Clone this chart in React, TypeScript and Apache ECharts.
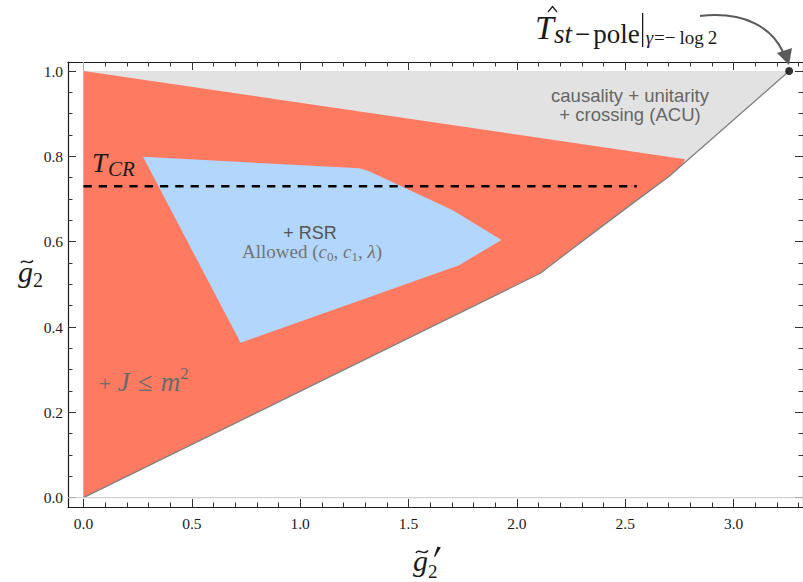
import React, { useEffect, useRef } from "react";
import * as echarts from "echarts";

// ---------- axis ranges & ticks ----------
const X_MIN = -0.0713;
const X_MAX = 3.32;
const Y_MIN = -0.0218;
const Y_MAX = 1.0211;
const X_MAJOR = [0, 0.5, 1.0, 1.5, 2.0, 2.5, 3.0];
const X_MINOR = [0.1, 0.2, 0.3, 0.4, 0.6, 0.7, 0.8, 0.9, 1.1, 1.2, 1.3, 1.4, 1.6, 1.7, 1.8, 1.9, 2.1, 2.2, 2.3, 2.4, 2.6, 2.7, 2.8, 2.9, 3.1, 3.2, 3.3];
const Y_MAJOR = [0, 0.2, 0.4, 0.6, 0.8, 1.0];
const Y_MINOR = [0.05, 0.1, 0.15, 0.25, 0.3, 0.35, 0.45, 0.5, 0.55, 0.65, 0.7, 0.75, 0.85, 0.9, 0.95];
const X_TICK_LABELS = ["0.0", "0.5", "1.0", "1.5", "2.0", "2.5", "3.0"];
const Y_TICK_LABELS = ["0.0", "0.2", "0.4", "0.6", "0.8", "1.0"];

// ---------- regions ----------
// lower-right boundary of the ACU region (from origin up to the pole point)
const ACU_BOUNDARY_X = [0, 2.108, 2.224, 2.377, 2.529, 2.7, 3.256];
const ACU_BOUNDARY_Y = [0, 0.526, 0.571, 0.63, 0.688, 0.752, 1.0];
const ACU_TOP_Y = 1.0;
// J <= m^2 region: top edge from (0,1) to corner, then boundary
const JM2_TOP_LEFT = [0, 1.0];
const JM2_CORNER = [2.776, 0.793];
const JM2_JOIN = [2.765, 0.781];
// RSR allowed region
const RSR_X = [0.275, 1.273, 1.318, 1.702, 1.929, 1.733, 0.725];
const RSR_Y = [0.799, 0.772, 0.765, 0.674, 0.604, 0.545, 0.363];
// T_CR dashed line
const TCR_Y = 0.73;
const TCR_X = [0, 2.553];
// pole point
const POLE_POINT = [3.256, 1.0];

const SERIF = '"Liberation Serif", "DejaVu Serif", serif';
const SANS = '"Liberation Sans", Arial, sans-serif';

type Frag = { t: string; size: number; italic?: boolean; family?: string; dy?: number; gap?: number; color?: string };

function fontOf(f: Frag) {
  return `${f.italic ? "italic " : ""}${f.size}px ${f.family || SERIF}`;
}

function runWidth(frags: Frag[]) {
  const ctx = document.createElement("canvas").getContext("2d")!;
  return frags.reduce((s, f) => {
    ctx.font = fontOf(f);
    return s + ctx.measureText(f.t).width + (f.gap || 0);
  }, 0);
}

function run(frags: Frag[], x: number, baseline: number, color: string, anchor: "left" | "center" = "left") {
  const ctx = document.createElement("canvas").getContext("2d")!;
  const widths = frags.map((f) => {
    ctx.font = fontOf(f);
    return ctx.measureText(f.t).width;
  });
  const total = frags.reduce((s, f, i) => s + widths[i] + (f.gap || 0), 0);
  let cx = anchor === "center" ? x - total / 2 : x;
  return frags.map((f, i) => {
    cx += f.gap || 0;
    const el = {
      type: "text",
      x: cx,
      y: baseline + (f.dy || 0) - 0.34 * f.size,
      silent: true,
      z: 100,
      style: {
        text: f.t,
        font: fontOf(f),
        fill: f.color || color,
        align: "left",
        verticalAlign: "middle",
        textAlign: "left",
        textVerticalAlign: "middle",
      },
    };
    cx += widths[i];
    return el;
  });
}

function zip(xs: number[], ys: number[]) {
  return xs.map((x, i) => [x, ys[i]]);
}

function polySeries(points: number[][], fill: string, z: number) {
  return {
    type: "custom",
    xAxisIndex: 0,
    yAxisIndex: 0,
    silent: true,
    z,
    data: [[0, 0]],
    renderItem: (_p: any, api: any) => ({
      type: "polygon",
      shape: { points: points.map((p) => api.coord(p)) },
      style: { fill, stroke: null },
    }),
  };
}

const TICK_FONT = '15.5px "Liberation Serif", "DejaVu Serif", serif';

// tick labels placed through the axes' scales
function tickLabelSeries(kind: "x" | "y") {
  const vals = kind === "x" ? X_MAJOR : Y_MAJOR;
  const labels = kind === "x" ? X_TICK_LABELS : Y_TICK_LABELS;
  return {
    type: "custom",
    xAxisIndex: 0,
    yAxisIndex: 0,
    silent: true,
    z: 20,
    clip: false,
    data: vals.map((v) => (kind === "x" ? [v, Y_MIN] : [X_MIN, v])),
    renderItem: (params: any, api: any) => {
      const p = api.coord([api.value(0), api.value(1)]);
      const text = labels[params.dataIndex];
      return kind === "x"
        ? { type: "text", x: p[0], y: p[1] + 8, style: { text, font: TICK_FONT, fill: "#1a1a1a", align: "center", verticalAlign: "top", textAlign: "center", textVerticalAlign: "top" } }
        : { type: "text", x: p[0] - 5, y: p[1], style: { text, font: TICK_FONT, fill: "#1a1a1a", align: "right", verticalAlign: "middle", textAlign: "right", textVerticalAlign: "middle" } };
    },
  };
}

function xAxisDef(position: string, values: number[], len: number, line: boolean) {
  return {
    type: "value",
    gridIndex: 0,
    position,
    min: X_MIN,
    max: X_MAX,
    axisLine: { show: line, onZero: false, lineStyle: { color: "#1a1a1a", width: 1.2 } },
    axisTick: { show: true, inside: true, length: len, customValues: values, lineStyle: { color: "#333", width: 1 } },
    axisLabel: { show: false },
    splitLine: { show: false },
    minorTick: { show: false },
  };
}

function yAxisDef(position: string, values: number[], len: number, line: boolean) {
  return {
    type: "value",
    gridIndex: 0,
    position,
    min: Y_MIN,
    max: Y_MAX,
    axisLine: { show: line, onZero: false, lineStyle: { color: "#1a1a1a", width: 1.2 } },
    axisTick: { show: true, inside: true, length: len, customValues: values, lineStyle: { color: "#333", width: 1 } },
    axisLabel: { show: false },
    splitLine: { show: false },
    minorTick: { show: false },
  };
}

export default function App() {
  const ref = useRef<HTMLDivElement>(null);
  useEffect(() => {
    document.body.style.margin = "0";
    if (!ref.current) return;
    const chart = echarts.init(ref.current, undefined, { renderer: "svg" });

    const boundary = zip(ACU_BOUNDARY_X, ACU_BOUNDARY_Y);
    const acuPoly = [[0, ACU_TOP_Y], [POLE_POINT[0], ACU_TOP_Y], ...boundary.slice().reverse()];
    const inner = boundary.filter((p) => p[0] < JM2_JOIN[0]);
    const redPoly = [JM2_TOP_LEFT, JM2_CORNER, JM2_JOIN, ...inner.slice().reverse()];
    const bluePoly = zip(RSR_X, RSR_Y);

    const poleFrags: Frag[] = [
      { t: "T", size: 34, italic: true },
      { t: "st", size: 27, italic: true, dy: 4 },
      { t: "−", size: 27, dy: 4, gap: 3 },
      { t: "pole", size: 27, dy: 4, gap: 3 },
    ];
    const poleX = 535;
    const barX = poleX + runWidth(poleFrags) + 3;

    const graphics: any[] = [
      // T_CR
      ...run([{ t: "T", size: 27, italic: true }, { t: "CR", size: 21, italic: true, dy: 4, gap: 1 }], 92, 172, "#1a1a1a"),
      // RSR
      ...run([{ t: "+ RSR", size: 18, family: SANS }], 310, 239, "#555", "center"),
      ...run(
        [
          { t: "Allowed (", size: 19 },
          { t: "c", size: 19, italic: true },
          { t: "0", size: 13, dy: 3 },
          { t: ", ", size: 19 },
          { t: "c", size: 19, italic: true },
          { t: "1", size: 13, dy: 3 },
          { t: ", ", size: 19 },
          { t: "λ", size: 19, italic: true },
          { t: ")", size: 19 },
        ],
        312,
        258,
        "#737373",
        "center"
      ),
      // ACU
      ...run([{ t: "causality + unitarity", size: 18.5, family: SANS }], 630, 102, "#666", "center"),
      ...run([{ t: "+ crossing (ACU)", size: 18.5, family: SANS }], 630, 121, "#666", "center"),
      // J <= m^2
      ...run(
        [
          { t: "+", size: 21 },
          { t: "J", size: 27, italic: true, gap: 7 },
          { t: "≤", size: 27, gap: 8 },
          { t: "m", size: 27, italic: true, gap: 8 },
          { t: "2", size: 17, dy: -12 },
        ],
        99,
        391,
        "#6a6a6a"
      ),
      // annotation at the top
      ...run(poleFrags, poleX, 39, "#1a1a1a"),
      ...run(
        [
          { t: "γ", size: 19, italic: true },
          { t: "=", size: 19, gap: 1 },
          { t: "−", size: 19, gap: 0 },
          { t: "log", size: 19, gap: 4 },
          { t: "2", size: 19, gap: 4 },
        ],
        barX + 3,
        44,
        "#1a1a1a"
      ),
      { type: "polyline", silent: true, z: 100, shape: { points: [[548, 12], [552.5, 6.5], [557, 12]] }, style: { stroke: "#1a1a1a", lineWidth: 1.2, fill: null } },
      { type: "line", silent: true, z: 100, shape: { x1: barX, y1: 13, x2: barX, y2: 47 }, style: { stroke: "#1a1a1a", lineWidth: 1.3 } },
      // arrow
      { type: "bezierCurve", silent: true, z: 100, shape: { x1: 700, y1: 16, cpx1: 745, cpy1: 11, cpx2: 772, cpy2: 28, x2: 783, y2: 52 }, style: { stroke: "#5a5a5a", lineWidth: 2, fill: null } },
      { type: "polygon", silent: true, z: 100, shape: { points: [[789, 65], [777, 53], [792, 48]] }, style: { fill: "#5a5a5a" } },
      // y-axis title g~_2
      ...run([{ t: "g", size: 30, italic: true }], 18, 282, "#1a1a1a"),
      ...run([{ t: "2", size: 20 }], 33, 287, "#1a1a1a"),
      { type: "bezierCurve", silent: true, z: 100, shape: { x1: 21, y1: 263, cpx1: 24, cpy1: 257.5, cpx2: 29, cpy2: 266.5, x2: 33, y2: 260.5 }, style: { stroke: "#1a1a1a", lineWidth: 1.5, fill: null } },
      // x-axis title g~'_2
      ...run([{ t: "g", size: 30, italic: true }], 413, 571, "#1a1a1a"),
      ...run([{ t: "2", size: 19 }], 428, 578, "#1a1a1a"),
      { type: "bezierCurve", silent: true, z: 100, shape: { x1: 416, y1: 553, cpx1: 419, cpy1: 547.5, cpx2: 424, cpy2: 556.5, x2: 428, y2: 550.5 }, style: { stroke: "#1a1a1a", lineWidth: 1.5, fill: null } },
      { type: "polygon", silent: true, z: 100, shape: { points: [[437.5, 546.5], [440.8, 547.5], [435, 557], [434, 556.5]] }, style: { fill: "#1a1a1a" } },
    ];

    const option: any = {
      animation: false,
      backgroundColor: "#ffffff",
      grid: { left: 68, right: -2, top: 62, bottom: 75, containLabel: false },
      xAxis: [
        xAxisDef("bottom", X_MAJOR, 8, true),
        xAxisDef("bottom", X_MINOR, 4.5, false),
        xAxisDef("top", X_MAJOR, 8, true),
        xAxisDef("top", X_MINOR, 4.5, false),
      ],
      yAxis: [
        yAxisDef("left", Y_MAJOR, 8, true),
        yAxisDef("left", Y_MINOR, 4.5, false),
        yAxisDef("right", Y_MAJOR, 8, true),
        yAxisDef("right", Y_MINOR, 4.5, false),
      ],
      series: [
        polySeries(acuPoly, "#e2e2e2", 1),
        polySeries(redPoly, "#fe7a61", 2),
        polySeries(bluePoly, "#b3d7fc", 3),
        {
          type: "line",
          z: 4,
          silent: true,
          symbol: "none",
          data: boundary,
          lineStyle: { color: "#808080", width: 1.3 },
        },
        {
          type: "line",
          z: 5,
          silent: true,
          symbol: "none",
          data: [[X_MIN, 0], [X_MAX, 0]],
          lineStyle: { color: "#c8c8c8", width: 1 },
        },
        {
          type: "line",
          z: 5,
          silent: true,
          symbol: "none",
          data: [[0, 0], [0, Y_MAX]],
          lineStyle: { color: "#b8b8b8", width: 1 },
        },
        {
          type: "line",
          z: 6,
          silent: true,
          symbol: "none",
          data: [[TCR_X[0], TCR_Y], [TCR_X[1], TCR_Y]],
          lineStyle: { color: "#000", width: 2.6, type: [8.3, 7] },
        },
        {
          type: "scatter",
          z: 7,
          silent: true,
          symbol: "circle",
          symbolSize: 8,
          data: [POLE_POINT],
          itemStyle: { color: "#000" },
        },
        tickLabelSeries("x"),
        tickLabelSeries("y"),
      ],
      graphic: graphics,
    };
    chart.setOption(option);
    return () => chart.dispose();
  }, []);
  return <div ref={ref} style={{ width: 803, height: 582 }} />;
}
